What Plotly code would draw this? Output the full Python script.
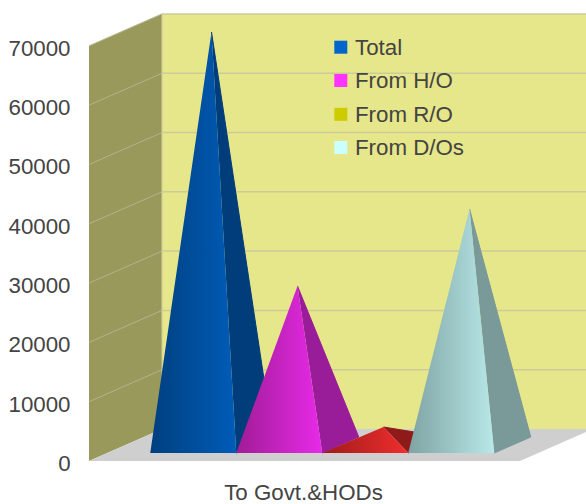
import plotly.graph_objects as go

category = "To Govt.&HODs"
series_names = ["Total", "From H/O", "From R/O", "From D/Os"]
series_values = [69650, 26800, 3040, 39800]
y_ticks = [0, 10000, 20000, 30000, 40000, 50000, 60000, 70000]

legend_colors = ["#0066cc", "#ff33ff", "#cccc00", "#ccffff"]
front_dark = ["#003f7f", "#a01c96", "#a01a1a", "#7fa3a3"]
front_bright = ["#005cb8", "#e82ae8", "#f02e2e", "#b8e8e8"]
side_colors = ["#003d7a", "#991c99", "#8f1a1a", "#7a9999"]

W, H = 586, 504
PLOT_L, PLOT_B = 89, 461
PX_PER_VALUE = 0.00593
SLOT_PX = 86.0
DEPTH_X_PX, DEPTH_Y_PX = 73.0, 32.0
FIRST_SLOT = (150 - 18 - PLOT_L) / SLOT_PX
X_END = (520 - PLOT_L) / SLOT_PX
X_MAX = (W - PLOT_L) / SLOT_PX
Y_MAX = PLOT_B / PX_PER_VALUE
DX = DEPTH_X_PX / SLOT_PX
DV = DEPTH_Y_PX / PX_PER_VALUE


def proj(x, value, depth):
    return x + depth * DX, value + depth * DV


def poly(points, color=None, gradient=None, line=None, lw=0):
    xs, ys = zip(*[proj(*p) for p in points])
    kw = dict(fillcolor=color) if color else dict(
        fillgradient=dict(type="horizontal",
                          colorscale=[[0, gradient[0]], [1, gradient[1]]]))
    return go.Scatter(x=list(xs), y=list(ys), mode="lines", fill="toself",
                      line=dict(color=line or "rgba(0,0,0,0)", width=lw),
                      showlegend=False, hoverinfo="skip", **kw)


def path(points, color, width=1):
    xs, ys = zip(*[proj(*p) for p in points])
    return go.Scatter(x=list(xs), y=list(ys), mode="lines",
                      line=dict(color=color, width=width),
                      showlegend=False, hoverinfo="skip")


fig = go.Figure()
top = y_ticks[-1]
# walls and floor
fig.add_trace(poly([(0, 0, 1), (X_END, 0, 1), (X_END, top, 1), (0, top, 1)], "#e6e68a"))
fig.add_trace(poly([(0, 0, 0), (0, 0, 1), (0, top, 1), (0, top, 0)], "#99995c"))
fig.add_trace(poly([(0, 0, 0), (X_END, 0, 0), (X_END, 0, 1), (0, 0, 1)], "#cfcfcf"))
for v in y_ticks[1:]:
    fig.add_trace(path([(0, v, 0), (0, v, 1)], "#b3b38c"))
    fig.add_trace(path([(0, v, 1), (X_END, v, 1)], "#cccc99", 1.5))
fig.add_trace(path([(0, 0, 1), (0, top, 1)], "#cccc99"))

# pyramids
for i, v in enumerate(series_values):
    x0 = FIRST_SLOT + i
    x1 = x0 + 1
    xm = x0 + 0.5
    apex = (xm, v, 0.5)
    fig.add_trace(poly([(x1, 0, 0.25), (x1, 0, 0.75), apex], side_colors[i],
                       line=side_colors[i], lw=1))
    fig.add_trace(poly([(x0, 0, 0.25), (x1, 0, 0.25), apex],
                       gradient=(front_dark[i], front_bright[i])))

# key entries, drawn inside the back wall
key_rows_px = [47.2, 80.5, 114.3, 147.5]
key_x_px = 340.8
key_text_px = 353
font = "Liberation Sans"
annotations = []
for name, color, row in zip(series_names, legend_colors, key_rows_px):
    fig.add_trace(go.Scatter(
        x=[(key_x_px - PLOT_L) / SLOT_PX], y=[(PLOT_B - row) / PX_PER_VALUE],
        mode="markers", name=name,
        marker=dict(symbol="square", size=13, color=color),
        showlegend=False, hoverinfo="skip"))
    annotations.append(dict(
        x=(key_text_px - PLOT_L) / SLOT_PX, y=(PLOT_B - row) / PX_PER_VALUE,
        xref="x", yref="y", text=name, showarrow=False,
        xanchor="left", yanchor="middle",
        font=dict(size=22.3, family=font, color="#444444")))

fig.update_layout(
    width=W, height=H, autosize=False,
    margin=dict(l=PLOT_L, r=0, t=0, b=H - PLOT_B),
    paper_bgcolor="white", plot_bgcolor="white",
    font=dict(family=font, color="#444444", size=22),
    hovermode=False,
    showlegend=False,
    annotations=annotations,
    xaxis=dict(range=[0, X_MAX], showgrid=False, zeroline=False, showline=False,
               automargin=False,
               tickmode="array", tickvals=[(303.5 - PLOT_L) / SLOT_PX],
               ticktext=[category], ticks="outside", ticklen=11,
               tickcolor="rgba(0,0,0,0)", tickfont=dict(size=22.3)),
    yaxis=dict(range=[0, Y_MAX], showgrid=False, zeroline=False, showline=False,
               automargin=False,
               tickmode="array", tickvals=y_ticks, ticklabelshift=2,
               ticktext=[str(t) for t in y_ticks], ticks="outside", ticklen=13,
               tickcolor="rgba(0,0,0,0)", tickfont=dict(size=22.3)),
)
fig.write_html("out.html", config=dict(displayModeBar=False),
               post_script="document.body.style.margin='0';document.documentElement.style.overflow='hidden';")
